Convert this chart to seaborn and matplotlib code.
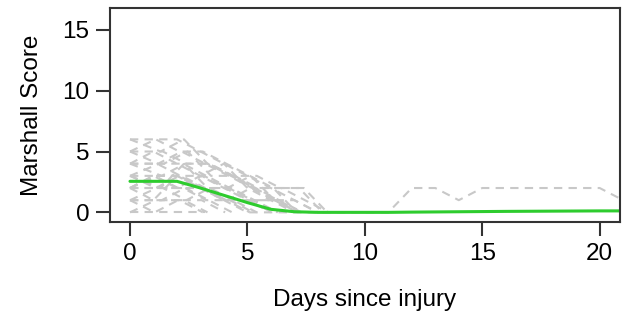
import matplotlib
matplotlib.use("Agg")
import matplotlib.pyplot as plt
import seaborn as sns
import pandas as pd

# ---- data ----
patient_scores = [
    [6, 6, 6, 5, 4, 3, 2, 1, 0],
    [6, 5, 6, 4, 3, 2, 1, 0],
    [5, 6, 5, 5, 4, 3, 2, 0],
    [5, 5, 4, 4, 3, 3, 2, 2, 0],
    [5, 4, 5, 4, 3, 2, 2, 2, 0],
    [4, 5, 4, 3, 4, 2, 1, 0],
    [4, 3, 4, 4, 3, 2, 1, 0],
    [4, 4, 3, 3, 2, 3, 1, 0],
    [3, 4, 4, 3, 2, 1, 0],
    [3, 3, 2, 3, 2, 1, 0],
    [3, 2, 4, 2, 2, 1, 0],
    [3, 2, 3, 2, 1, 0],
    [2, 3, 3, 2, 2, 1, 1, 0],
    [2, 2, 1, 2, 1, 0],
    [2, 1, 3, 2, 1, 1, 0],
    [2, 2, 2, 1, 1, 0],
    [1, 2, 2, 2, 1, 2, 1, 0],
    [1, 1, 2, 1, 0],
    [1, 0, 1, 1, 0],
    [1, 1, 1, 0],
    [0, 1, 1, 0],
    [0, 0, 0, 0],
    [4, 4, 5, 3, 3, 2, 2, 1, 0],
    [2, 3, 2, 3, 2, 1, 1, 1, 0],
    [2, 3, 3, 2, 1, 0, 0, 0, 0, 0, 0, 0, 2, 2, 1, 2, 2, 2, 2, 2, 2, 1],
]
patient_day_offset = [0.0, 0.3, 0.1, 0.4, 0.2, 0.0, 0.35, 0.15, 0.25, 0.05,
                      0.3, 0.1, 0.2, 0.4, 0.0, 0.25, 0.15, 0.35, 0.05, 0.3,
                      0.1, 0.2, 0.45, 0.0, 0.0]
mean_days = [0, 1, 2, 3, 4, 5, 6, 7, 8, 9, 10, 11, 12, 14, 16, 18, 20, 21]
mean_scores = [2.55, 2.55, 2.55, 2.0, 1.4, 0.8, 0.25, 0.05, 0.0, 0.0, 0.0, 0.0,
               0.02, 0.05, 0.08, 0.1, 0.12, 0.12]
x_ticks = [0, 5, 10, 15, 20]
y_ticks = [0, 5, 10, 15]

rows = []
for pid, scores in enumerate(patient_scores):
    for day, s in enumerate(scores):
        d = day + (patient_day_offset[pid] if day > 0 else 0.0)
        rows.append({"patient": pid, "day": d, "score": s})
df = pd.DataFrame(rows)
mean_df = pd.DataFrame({"day": mean_days, "score": mean_scores})

sns.set_style("white")
plt.rcParams["font.family"] = ["Liberation Sans", "DejaVu Sans"]
plt.rcParams["text.color"] = "black"
plt.rcParams["axes.labelcolor"] = "black"
plt.rcParams["xtick.color"] = "black"
plt.rcParams["ytick.color"] = "black"

fig = plt.figure(figsize=(6.23, 3.30), dpi=100)
ax = fig.add_axes([0.1766, 0.327, 0.818, 0.649])

sns.lineplot(data=df, x="day", y="score", units="patient", estimator=None,
             sort=False, color="#c8c8c8", linewidth=1.5,
             linestyle=(0, (4, 3)), ax=ax)
sns.lineplot(data=mean_df, x="day", y="score", color="#2ecc2e",
             linewidth=2.2, ax=ax)

ax.set_xlim(-0.85, 20.85)
ax.set_ylim(-0.8, 16.8)
ax.set_xticks(x_ticks)
ax.set_yticks(y_ticks)
ax.set_xlabel("Days since injury", fontsize=17.5, labelpad=17)
ax.set_ylabel("Marshall Score", fontsize=17.5, labelpad=14)
ax.tick_params(axis="both", labelsize=17.5, length=10, width=1.5,
               color="#333333", labelcolor="black", direction="out",
               left=True, bottom=True, pad=5)
for sp in ax.spines.values():
    sp.set_visible(True)
    sp.set_color("#333333")
    sp.set_linewidth(1.5)

fig.savefig("out.png", dpi=100)
